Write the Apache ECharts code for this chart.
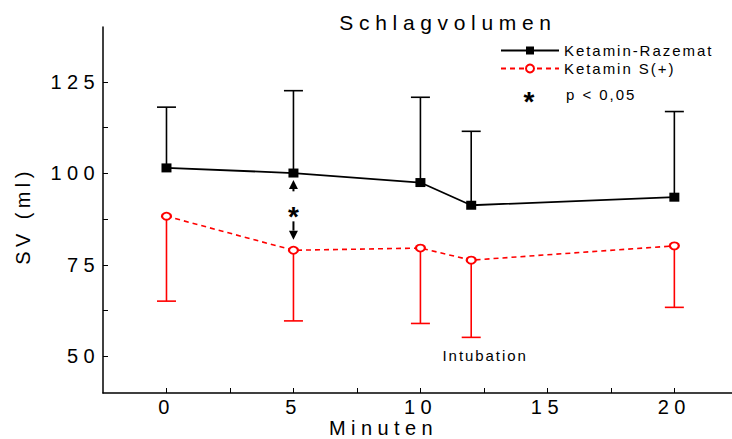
<!DOCTYPE html>
<html>
<head>
<meta charset="utf-8">
<script src="https://cdn.jsdelivr.net/npm/echarts@6/dist/echarts.min.js"></script>
<style>
html, body { margin: 0; padding: 0; background: #fff; }
#main { width: 732px; height: 439px; }
</style>
</head>
<body>
<div id="main"></div>
<script>
// Messzeitpunkte (Minuten)
var minuten = [0, 5, 10, 12, 20];
// Ketamin-Razemat: Mittelwert und obere Fehlergrenze
var razematMittel = [101.5, 100.1, 97.5, 91.3, 93.5];
var razematOben = [118.1, 122.6, 120.8, 111.5, 116.9];
// Ketamin S(+): Mittelwert und untere Fehlergrenze
var sPlusMittel = [88.3, 79.0, 79.6, 76.3, 80.2];
var sPlusUnten = [65.1, 59.7, 59.0, 55.2, 63.4];
// Achsen
var xTicks = [0, 2.5, 5, 7.5, 10, 12.5, 15, 17.5, 20];
var xLabels = [0, 5, 10, 15, 20];
var yTicks = [50, 62.5, 75, 87.5, 100, 112.5, 125];
var yLabels = [50, 75, 100, 125];
// Signifikanz bei 5 min: Pfeil [x, von, bis], Stern [x, y]
var pfeilHoch = [5, 95.1, 98.2];
var pfeilRunter = [5, 86.9, 81.9];
var stern = [5, 89.6];
var intubation = [12.55, 50.2];

var FONT = '"Liberation Sans", Arial, sans-serif';
var STERN_FONT = 'bold 28px ' + FONT;

function fehlerbalken(farbe) {
	return function(params, api) {
		var p0 = api.coord([api.value(0), api.value(1)]);
		var p1 = api.coord([api.value(0), api.value(2)]);
		var w = 9.5;
		return {
			type: 'group',
			children: [
				{type: 'line', shape: {x1: p0[0], y1: p0[1], x2: p1[0], y2: p1[1]}, style: {stroke: farbe, lineWidth: 1.6}},
				{type: 'line', shape: {x1: p1[0] - w, y1: p1[1], x2: p1[0] + w, y2: p1[1]}, style: {stroke: farbe, lineWidth: 1.6}}
			]
		};
	};
}

function pfeil(api, p) {
	var a = api.coord([p[0], p[1]]);
	var b = api.coord([p[0], p[2]]);
	var dir = b[1] > a[1] ? 1 : -1;
	var kopf = 9, halb = 4.5;
	return [
		{type: 'line', shape: {x1: a[0], y1: a[1], x2: b[0], y2: b[1] - dir * kopf}, style: {stroke: '#000', lineWidth: 2}},
		{type: 'polygon', shape: {points: [[b[0], b[1]], [b[0] - halb, b[1] - dir * kopf], [b[0] + halb, b[1] - dir * kopf]]}, style: {fill: '#000'}}
	];
}

function annotation(params, api) {
	var s = api.coord(stern);
	var t = api.coord(intubation);
	var kinder = pfeil(api, pfeilHoch).concat(pfeil(api, pfeilRunter));
	kinder.push({type: 'text', style: {text: '*', x: s[0], y: s[1] + 5, align: 'center', verticalAlign: 'middle', font: STERN_FONT, fill: '#000'}});
	kinder.push({type: 'text', style: {text: 'Intubation', x: t[0], y: t[1], align: 'center', verticalAlign: 'middle', font: '15px ' + FONT, fill: '#000'}});
	return {type: 'group', children: kinder};
}

var dom = document.getElementById('main');
var myChart = echarts.init(dom, null, {renderer: 'svg'});

var option = {
	animation: false,
	backgroundColor: '#fff',
	title: {
		text: 'Schlagvolumen',
		left: 448,
		top: 12,
		padding: 0,
		textAlign: 'center',
		textStyle: {fontFamily: FONT, fontSize: 21, fontWeight: 'normal', color: '#000'}
	},
	legend: {
		data: ['Ketamin-Razemat', 'Ketamin S(+)'],
		orient: 'vertical',
		left: 500,
		top: 43,
		padding: 0,
		itemWidth: 58,
		itemHeight: 10,
		itemGap: 3,
		textStyle: {fontFamily: FONT, fontSize: 15, color: '#000'}
	},
	graphic: [
		{type: 'text', x: 529, y: 101, style: {text: '*', font: STERN_FONT, fill: '#000', align: 'center', verticalAlign: 'middle'}},
		{type: 'text', x: 566, y: 94, style: {text: 'p < 0,05', font: '15px ' + FONT, fill: '#000', align: 'left', verticalAlign: 'middle'}}
	],
	grid: {left: 103, right: 0, top: 27, bottom: 46, containLabel: false, outerBoundsMode: 'none'},
	xAxis: {
		type: 'value',
		min: -2.5,
		max: 22.27,
		name: 'Minuten',
		nameLocation: 'middle',
		nameGap: 25,
		nameMoveOverlap: false,
		nameTextStyle: {fontFamily: FONT, fontSize: 20, color: '#000', padding: [0, 68, 0, 0]},
		axisLine: {show: true, onZero: false, lineStyle: {color: '#000', width: 1.5}},
		axisTick: {show: true, inside: true, length: 5, customValues: xTicks, lineStyle: {color: '#000', width: 1}},
		axisLabel: {customValues: xLabels, fontFamily: FONT, fontSize: 20, color: '#000', margin: 4},
		splitLine: {show: false}
	},
	yAxis: {
		type: 'value',
		min: 40,
		max: 140,
		name: 'SV (ml)',
		nameLocation: 'middle',
		nameGap: 70,
		nameMoveOverlap: false,
		nameTextStyle: {fontFamily: FONT, fontSize: 20, color: '#000', padding: [0, 12, 0, 0]},
		axisLine: {show: true, onZero: false, lineStyle: {color: '#000', width: 1.5}},
		axisTick: {show: true, inside: true, length: 5, customValues: yTicks, lineStyle: {color: '#000', width: 1}},
		axisLabel: {customValues: yLabels, fontFamily: FONT, fontSize: 20, color: '#000', margin: 3},
		splitLine: {show: false}
	},
	series: [
		{
			name: 'Fehler Razemat',
			type: 'custom',
			renderItem: fehlerbalken('#000'),
			data: minuten.map(function(x, i) { return [x, razematMittel[i], razematOben[i]]; }),
			encode: {x: 0, y: [1, 2]},
			clip: false,
			z: 1
		},
		{
			name: 'Fehler S(+)',
			type: 'custom',
			renderItem: fehlerbalken('#ff0000'),
			data: minuten.map(function(x, i) { return [x, sPlusMittel[i], sPlusUnten[i]]; }),
			encode: {x: 0, y: [1, 2]},
			clip: false,
			z: 1
		},
		{
			name: 'Ketamin-Razemat',
			type: 'line',
			data: minuten.map(function(x, i) { return [x, razematMittel[i]]; }),
			symbol: 'rect',
			symbolSize: [10, 9],
			itemStyle: {color: '#000'},
			lineStyle: {color: '#000', width: 1.8},
			z: 3
		},
		{
			name: 'Ketamin S(+)',
			type: 'line',
			data: minuten.map(function(x, i) { return [x, sPlusMittel[i]]; }),
			symbol: 'emptyCircle',
			symbolSize: [9, 7],
			itemStyle: {color: '#ff0000', borderWidth: 1.5},
			lineStyle: {color: '#ff0000', width: 1.6, type: [5, 4]},
			z: 3
		},
		{
			name: 'Signifikanz',
			type: 'custom',
			renderItem: annotation,
			data: [[stern[0], stern[1]]],
			clip: false,
			z: 4
		}
	]
};

if (option && typeof option === "object") {
	myChart.setOption(option, true);
}

// Sperrschrift wie im Original
var sperrung = {'SV (ml)': 4.4};
function sperren() {
	var texts = dom.querySelectorAll('text');
	for (var i = 0; i < texts.length; i++) {
		var t = texts[i];
		if (t.textContent === '*') continue;
		var fs = parseFloat(getComputedStyle(t).fontSize);
		var s = sperrung[t.textContent] != null ? sperrung[t.textContent] : (fs >= 18 ? 0.27 : 0.13) * fs;
		t.style.letterSpacing = s + 'px';
	}
}
myChart.on('finished', sperren);
sperren();
</script>
</body>
</html>
